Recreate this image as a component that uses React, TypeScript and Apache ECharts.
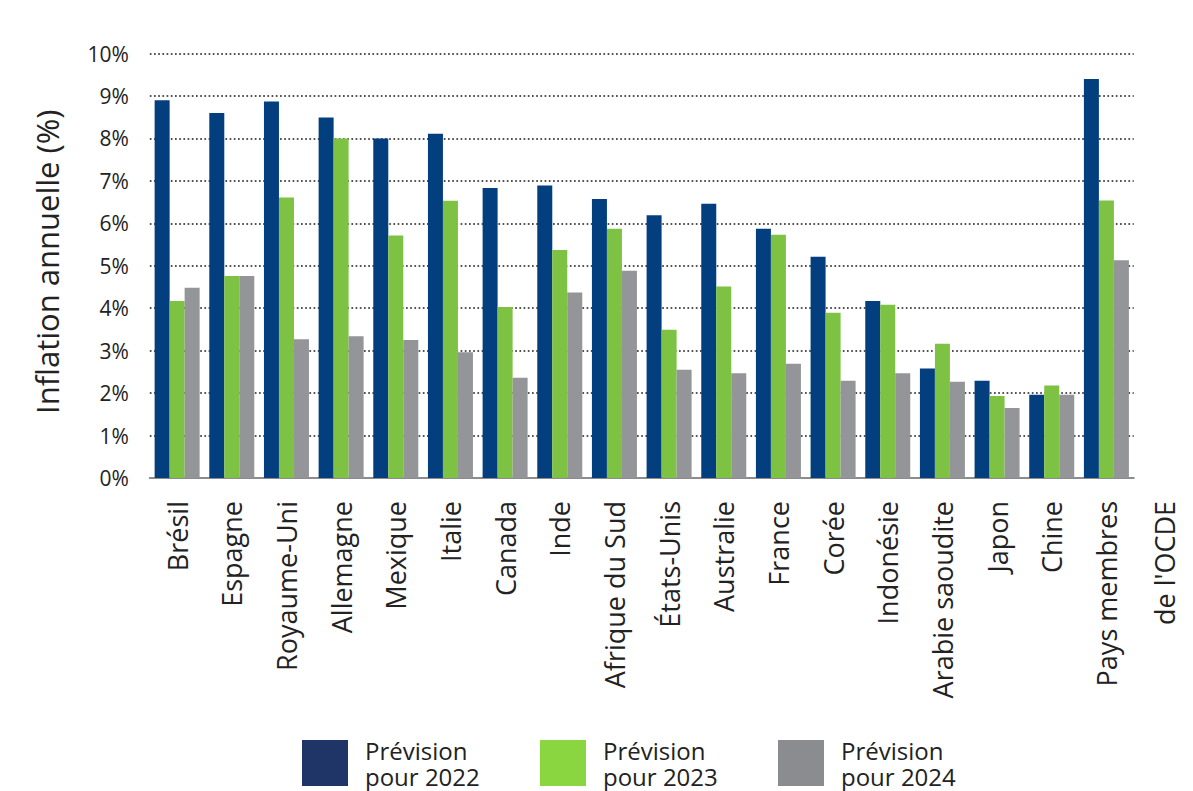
import React, { useEffect, useRef } from "react";
import * as echarts from "echarts";

// Projected annual inflation by economy (%)
const categories = [
  "Brésil",
  "Espagne",
  "Royaume-Uni",
  "Allemagne",
  "Mexique",
  "Italie",
  "Canada",
  "Inde",
  "Afrique du Sud",
  "États-Unis",
  "Australie",
  "France",
  "Corée",
  "Indonésie",
  "Arabie saoudite",
  "Japon",
  "Chine",
  "Pays membres de l'OCDE",
];

const forecast2022 = [8.9, 8.6, 8.87, 8.49, 8.0, 8.11, 6.83, 6.89, 6.57, 6.19, 6.46, 5.87, 5.21, 4.17, 2.58, 2.29, 1.96, 9.4];
const forecast2023 = [4.17, 4.76, 6.61, 8.0, 5.71, 6.53, 4.03, 5.37, 5.87, 3.49, 4.51, 5.73, 3.89, 4.08, 3.16, 1.93, 2.18, 6.54];
const forecast2024 = [4.48, 4.76, 3.27, 3.34, 3.25, 2.96, 2.36, 4.37, 4.88, 2.55, 2.47, 2.69, 2.29, 2.47, 2.27, 1.65, 1.96, 5.13];

const seriesNames = ["Prévision\npour 2022", "Prévision\npour 2023", "Prévision\npour 2024"];
const barColors = ["#033f7e", "#7dc242", "#949599"];
const legendColors = ["#1f3568", "#8ad641", "#8a8c8f"];
const yTicks = [0, 10, 1];

const FONT = "'Open Sans', 'Noto Sans', sans-serif";
const TEXT = "#222222";
const W = 1193;
const H = 791;

export default function App() {
  const ref = useRef<HTMLDivElement>(null);

  useEffect(() => {
    if (!ref.current) return;
    const chart = echarts.init(ref.current, undefined, {
      renderer: "svg",
      width: W,
      height: H,
    });
    const values = [forecast2022, forecast2023, forecast2024];
    const legendLeft = [302, 540, 778];

    chart.setOption({
      animation: false,
      textStyle: { fontFamily: FONT },
      grid: { left: 149.8, right: 44.8, top: 53.5, bottom: 313, containLabel: false },
      legend: seriesNames.map((name, i) => ({
        left: legendLeft[i],
        top: 737,
        padding: 0,
        orient: "horizontal",
        itemWidth: 46,
        itemHeight: 46,
        icon: "rect",
        data: [{ name, itemStyle: { color: legendColors[i] } }],
        textStyle: {
          fontFamily: FONT,
          fontSize: 24,
          lineHeight: 26,
          color: TEXT,
          padding: [0, 0, 0, 12],
        },
        selectedMode: false,
      })),
      xAxis: {
        type: "category",
        data: categories,
        axisLine: { lineStyle: { color: "#8c8c8c", width: 2 } },
        axisTick: { show: false },
        axisLabel: {
          interval: 0,
          rotate: 90,
          margin: 23,
          fontSize: 27,
          fontFamily: FONT,
          color: TEXT,
          lineHeight: 58,
          formatter: (v: string) =>
            v === "Pays membres de l'OCDE" ? "\nPays membres\nde l'OCDE" : v,
        },
      },
      yAxis: {
        type: "value",
        min: yTicks[0],
        max: yTicks[1],
        interval: yTicks[2],
        name: "Inflation annuelle (%)",
        nameLocation: "middle",
        nameRotate: 90,
        nameGap: 87,
        nameTextStyle: { fontSize: 31, fontFamily: FONT, color: TEXT, padding: [0, 0, 0, 8] },
        axisLine: { show: false },
        axisTick: { show: false },
        axisLabel: {
          formatter: "{value}%",
          fontSize: 21,
          fontFamily: FONT,
          color: TEXT,
          margin: 21,
        },
        splitLine: {
          lineStyle: { color: "#1a1a1a", width: 1.7, type: [1.7, 2.5] },
        },
      },
      series: seriesNames.map((name, i) => ({
        name,
        type: "bar",
        data: values[i],
        barWidth: 15,
        barGap: "0%",
        itemStyle: { color: barColors[i] },
      })),
    });

    return () => chart.dispose();
  }, []);

  return (
    <div
      ref={ref}
      style={{ position: "absolute", left: 0, top: 0, width: W, height: H, overflow: "hidden" }}
    />
  );
}
